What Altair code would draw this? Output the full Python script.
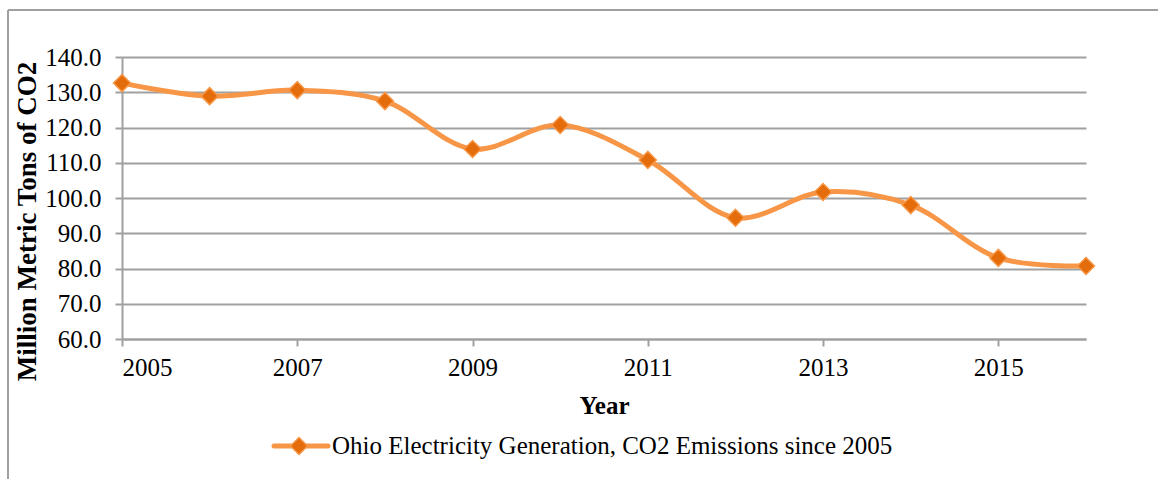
import altair as alt
import pandas as pd

years = [2005, 2006, 2007, 2008, 2009, 2010, 2011, 2012, 2013, 2014, 2015, 2016]
emissions = [132.6, 128.9, 130.6, 127.5, 113.9, 120.7, 110.8, 94.4, 101.7, 98.0, 83.0, 80.7]
x_ticks = [2005, 2007, 2009, 2011, 2013, 2015]
y_ticks = [60, 70, 80, 90, 100, 110, 120, 130, 140]
series_name = "Ohio Electricity Generation, CO2 Emissions since 2005"

df = pd.DataFrame({"Year": years, "CO2": emissions})

FONT = "Times New Roman, Liberation Serif, serif"
LINE = "#F79646"
MARK = "#E46C0A"
GRID = "#A0A0A0"
FS = 25

x = alt.X("Year:Q", scale=alt.Scale(domain=[2005, 2016], nice=False, zero=False),
          axis=alt.Axis(values=x_ticks, format="d", title="Year", grid=False,
                        labelFont=FONT, labelFontSize=FS, labelColor="black",
                        labelPadding=9, tickSize=7, tickColor=GRID, tickWidth=2,
                        domainColor=GRID, domainWidth=2,
                        titleFont=FONT, titleFontSize=25, titleFontWeight="bold",
                        titleColor="black", titlePadding=13))
y = alt.Y("CO2:Q", scale=alt.Scale(domain=[60, 140], nice=False, zero=False),
          axis=alt.Axis(values=y_ticks, format=".1f", title="Million Metric Tons of CO2",
                        grid=True, gridColor=GRID, gridWidth=2,
                        labelFont=FONT, labelFontSize=FS, labelColor="black",
                        labelPadding=14, tickSize=7, tickColor=GRID, tickWidth=2,
                        domainColor=GRID, domainWidth=2,
                        titleFont=FONT, titleFontSize=27, titleFontWeight="bold",
                        titleColor="black", titlePadding=3, titleY=164))

base = alt.Chart(df)
line = base.mark_line(color=LINE, strokeWidth=5, interpolate="catmull-rom").encode(x=x, y=y)
pts = base.mark_point(shape="diamond", filled=True, size=290, fill=MARK,
                      stroke=LINE, strokeWidth=1.5, opacity=1).encode(x=x, y=y)

one = pd.DataFrame({"label": [series_name]})
border_top = alt.Chart(one).mark_rule(color=GRID, strokeWidth=2).encode(
    x=alt.value(-114), x2=alt.value(1036), y=alt.value(-47))
border_left = alt.Chart(one).mark_rule(color=GRID, strokeWidth=2).encode(
    x=alt.value(-114), y=alt.value(-47), y2=alt.value(422))
leg_line = alt.Chart(one).mark_rule(color=LINE, strokeWidth=5, strokeCap="round").encode(
    x=alt.value(152), x2=alt.value(206), y=alt.value(389))
leg_pt = alt.Chart(one).mark_point(shape="diamond", filled=True, size=290, fill=MARK,
                                   stroke=LINE, strokeWidth=1.5, opacity=1).encode(
    x=alt.value(177), y=alt.value(389))
leg_txt = alt.Chart(one).mark_text(font=FONT, fontSize=25, align="left", baseline="middle",
                                   color="black").encode(
    x=alt.value(210), y=alt.value(389), text="label:N")

chart = alt.layer(border_top, border_left, line, pts, leg_line, leg_pt, leg_txt).properties(
    width=964, height=282,
    autosize=alt.AutoSizeParams(type="none"),
    padding={"left": 122, "top": 57, "right": 72, "bottom": 140},
    background="white",
).configure_view(stroke=None)

chart.save("out.html", embed_options={"renderer": "svg", "actions": False})
